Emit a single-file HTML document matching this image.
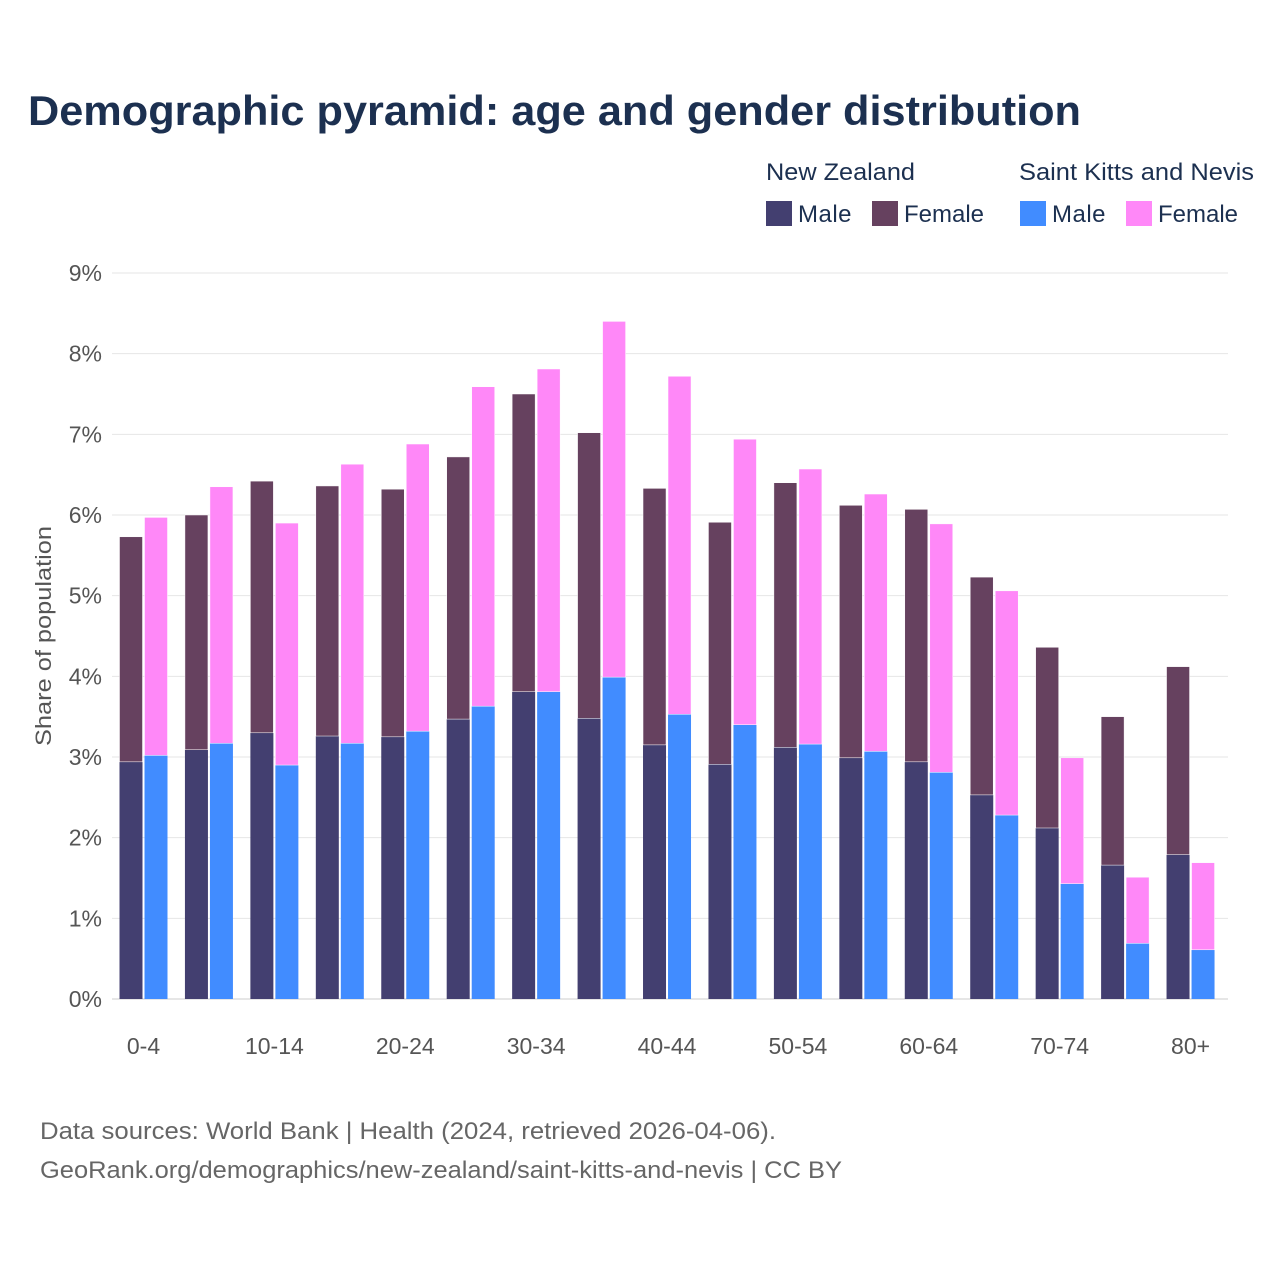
<!DOCTYPE html>
<html><head><meta charset="utf-8">
<style>
html,body{margin:0;padding:0;background:#fff;}
body{width:1280px;height:1280px;overflow:hidden;font-family:"Liberation Sans",sans-serif;}
</style></head>
<body>
<svg id="chart" width="1280" height="1280" xmlns="http://www.w3.org/2000/svg">
<text x="28" y="125" font-size="42" font-weight="bold" fill="#1c3050" textLength="1053" lengthAdjust="spacingAndGlyphs">Demographic pyramid: age and gender distribution</text>
<g>
<text x="766" y="180" font-size="24" fill="#1c3050" textLength="149" lengthAdjust="spacingAndGlyphs">New Zealand</text>
<text x="1019" y="180" font-size="24" fill="#1c3050" textLength="235" lengthAdjust="spacingAndGlyphs">Saint Kitts and Nevis</text>
<rect x="766" y="201" width="26" height="25" fill="#433f70"/>
<text x="798" y="222" font-size="24" fill="#1c3050" letter-spacing="0.5">Male</text>
<rect x="872" y="201" width="26" height="25" fill="#66415f"/>
<text x="904" y="222" font-size="24" fill="#1c3050">Female</text>
<rect x="1020" y="201" width="26" height="25" fill="#418cff"/>
<text x="1052" y="222" font-size="24" fill="#1c3050" letter-spacing="0.5">Male</text>
<rect x="1126" y="201" width="26" height="25" fill="#ff88f8"/>
<text x="1158" y="222" font-size="24" fill="#1c3050">Female</text>
</g>
<text transform="translate(51,636) rotate(-90)" text-anchor="middle" font-size="22" fill="#555" textLength="220" lengthAdjust="spacingAndGlyphs">Share of population</text>
<g id="grid"></g>
<g id="bars"></g>
<g id="xlabels"></g>
<text x="40" y="1139" font-size="24" fill="#666" textLength="736" lengthAdjust="spacingAndGlyphs">Data sources: World Bank | Health (2024, retrieved 2026-04-06).</text>
<text x="40" y="1178" font-size="24" fill="#666" textLength="802" lengthAdjust="spacingAndGlyphs">GeoRank.org/demographics/new-zealand/saint-kitts-and-nevis | CC BY</text>
</svg>
<script>
const categories = ["0-4","5-9","10-14","15-19","20-24","25-29","30-34","35-39","40-44","45-49","50-54","55-59","60-64","65-69","70-74","75-79","80+"];
const nzMale = [2.94,3.09,3.30,3.26,3.25,3.47,3.81,3.48,3.15,2.91,3.12,2.99,2.94,2.53,2.12,1.66,1.79];
const nzFemale = [2.79,2.91,3.12,3.10,3.07,3.25,3.69,3.54,3.18,3.00,3.28,3.13,3.13,2.70,2.24,1.84,2.33];
const sknMale = [3.02,3.17,2.90,3.17,3.32,3.63,3.81,3.99,3.53,3.40,3.16,3.07,2.81,2.28,1.43,0.69,0.61];
const sknFemale = [2.95,3.18,3.00,3.46,3.56,3.96,4.00,4.41,4.19,3.54,3.41,3.19,3.08,2.78,1.56,0.82,1.08];
const yTicks = [0,1,2,3,4,5,6,7,8,9];
const xLabelIdx = [0,2,4,6,8,10,12,14,16];

const NS="http://www.w3.org/2000/svg";
const y0=999, yTop=273, yMax=9;
function yScale(v){return y0-(v/yMax)*(y0-yTop);}
function xCenter(i){return 143.5+i*65.44;}
const bw=23, gap=2;
function el(tag,attrs,parent){const e=document.createElementNS(NS,tag);for(const k in attrs)e.setAttribute(k,attrs[k]);parent.appendChild(e);return e;}
const grid=document.getElementById('grid');
yTicks.forEach(t=>{
  const y=yScale(t);
  const l=el('line',{x1:112,x2:1228,y1:y,y2:y,stroke:t===0?'#ccc':'#e6e6e6','stroke-width':1},grid);
  
  
  const tx=el('text',{x:102,y:y+8,'text-anchor':'end','font-size':23,fill:'#555'},grid);
  tx.textContent=t+'%';
  
  
});
const bars=document.getElementById('bars');
function stack(x,m,f,cm,cf,name){
  const ym=yScale(m), yt=yScale(m+f);
  const r1=el('rect',{x:x,y:ym,width:bw,height:y0-ym,fill:cm},bars);
  
  
  const r2=el('rect',{x:x,y:yt,width:bw,height:ym-yt,fill:cf,stroke:'#fff','stroke-width':0.5},bars);
  
  
}
categories.forEach((c,i)=>{
  const cx=xCenter(i);
  stack(cx-bw-gap/2,nzMale[i],nzFemale[i],'#433f70','#66415f','bar-nz-'+c);
  stack(cx+gap/2,sknMale[i],sknFemale[i],'#418cff','#ff88f8','bar-skn-'+c);
});
const xl=document.getElementById('xlabels');
xLabelIdx.forEach(i=>{
  const t=el('text',{x:xCenter(i),y:1054,'text-anchor':'middle','font-size':23,fill:'#555'},xl);
  t.textContent=categories[i];
  
  
});
</script>
</body></html>
